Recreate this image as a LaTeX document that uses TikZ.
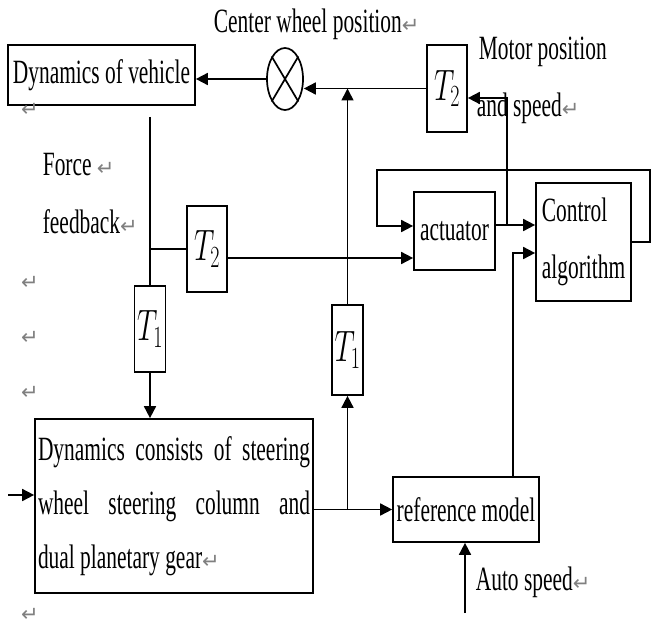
\RequirePackage{fix-cm}
\documentclass[tikz,border=0pt]{standalone}
\usepackage[no-math]{fontspec}
\setmainfont[FakeStretch=0.63]{Liberation Serif}
\newfontfamily\markfont{DejaVu Sans}
\usepackage{graphicx}
\usepackage{xcolor}
\usetikzlibrary{arrows.meta,shapes.geometric}
\newcommand{\ret}{{\markfont\fontsize{21}{21}\selectfont\textcolor{gray}{↵}}}
\newcommand{\Tb}[1]{\scalebox{0.65}[1]{$T_{#1}$}}

\begin{document}
\begin{tikzpicture}[x=1pt, y=-1pt, line width=1.7pt,
    box/.style={draw, rectangle, inner sep=2pt, font=\fontsize{34}{54}\selectfont},
    tbox/.style={draw, rectangle, inner sep=0pt, font=\fontsize{44}{44}\selectfont},
    txt/.style={inner sep=0pt, anchor=west, font=\fontsize{34}{54}\selectfont},
    >={Triangle[length=12pt,width=12pt]}]
      \useasboundingbox (0,0) rectangle (652,631);

      \node[box, minimum width=187pt, minimum height=60pt] (veh) at (101.5,75) {Dynamics of vehicle};
      \node[draw, ellipse, minimum width=36pt, minimum height=62pt, inner sep=0pt] (sum) at (285,79) {};
      \node[tbox, minimum width=40pt, minimum height=87pt] (t2a) at (447,88.5) {\Tb{2}};
      \node[box, minimum width=81pt, minimum height=78pt] (act) at (454.5,231) {actuator};
      \node[box, minimum width=95pt, minimum height=118pt, align=left, font=\fontsize{34}{57}\selectfont] (ctrl) at (583.5,242) {Control\\algorithm};
      \node[tbox, minimum width=40pt, minimum height=86pt] (t2b) at (207,249) {\Tb{2}};
      \node[tbox, minimum width=31pt, minimum height=86pt] (t1a) at (150,329) {\Tb{1}};
      \node[tbox, minimum width=31pt, minimum height=90pt] (t1b) at (347.5,350) {\Tb{1}};
      \node[box, minimum width=278pt, minimum height=174pt, text width=272pt, align=justify] (big) at (174,506)
        {Dynamics consists of steering\linebreak wheel steering column and\linebreak dual planetary gear\ret};
      \node[box, minimum width=146pt, minimum height=65pt] (ref) at (466,509.5) {reference model};

      \node[txt] (cwp) at (213,24) {Center wheel position\ret};
      \node[txt] (mp1) at (478,52) {Motor position};
      \node[txt] (mp2) at (476,108) {and speed\ret};
      \node[txt] (ff1) at (42,165) {Force \ret};
      \node[txt] (ff2) at (42,222) {feedback\ret};
      \node[txt] (aus) at (475,582) {Auto speed\ret};
      \foreach \y [count=\i] in {110,283,338,393,615}
        \node[inner sep=0pt] (rt\i) at (30,\y) {\ret};

      \coordinate (mjun) at (507,225);
      \coordinate (fbr) at (650,170);
      \coordinate (fbl) at (377,170);
      \coordinate (ffb) at (150,117);
      \coordinate (uin) at (8,495);
      \coordinate (auto) at (465,613);

      \draw (sum.north east) -- (sum.south west);
      \draw (sum.north west) -- (sum.south east);
      \draw[->] (sum.west) -- (sum.west -| veh.east);
      \draw[->] (t2a.west) -- (t2a.west -| sum.east);
      \draw[->] (t1b.north) -- (t1b.north |- t2a.west);
      \draw[->] ([yshift=6pt]act.east) -- ([yshift=6pt]act.east -| ctrl.west);
      \draw[->] (mjun) |- ([yshift=-9.5pt]t2a.east);
      \draw[->] (ctrl.east) -| (fbr) -- (fbl) |- ([yshift=5pt]act.west);
      \draw[->] ([yshift=-9pt]t2b.east) -- ([yshift=-9pt]t2b.east -| act.west);
      \draw (ffb) -- (t1a.north);
      \draw (t1a.north |- t2b.west) -- (t2b.west);
      \draw[->] (t1a.south) -- (t1a.south |- big.north);
      \draw[->] (uin) -- (uin -| big.west);
      \draw[->] (ref.west -| big.east) -- (ref.west);
      \draw[->] (t1b.south |- ref.west) -- (t1b.south);
      \draw[->] ([xshift=47pt]ref.north) |- ([yshift=-11pt]ctrl.west);
      \draw[->] (auto) -- (auto |- ref.south);
\end{tikzpicture}
\end{document}
